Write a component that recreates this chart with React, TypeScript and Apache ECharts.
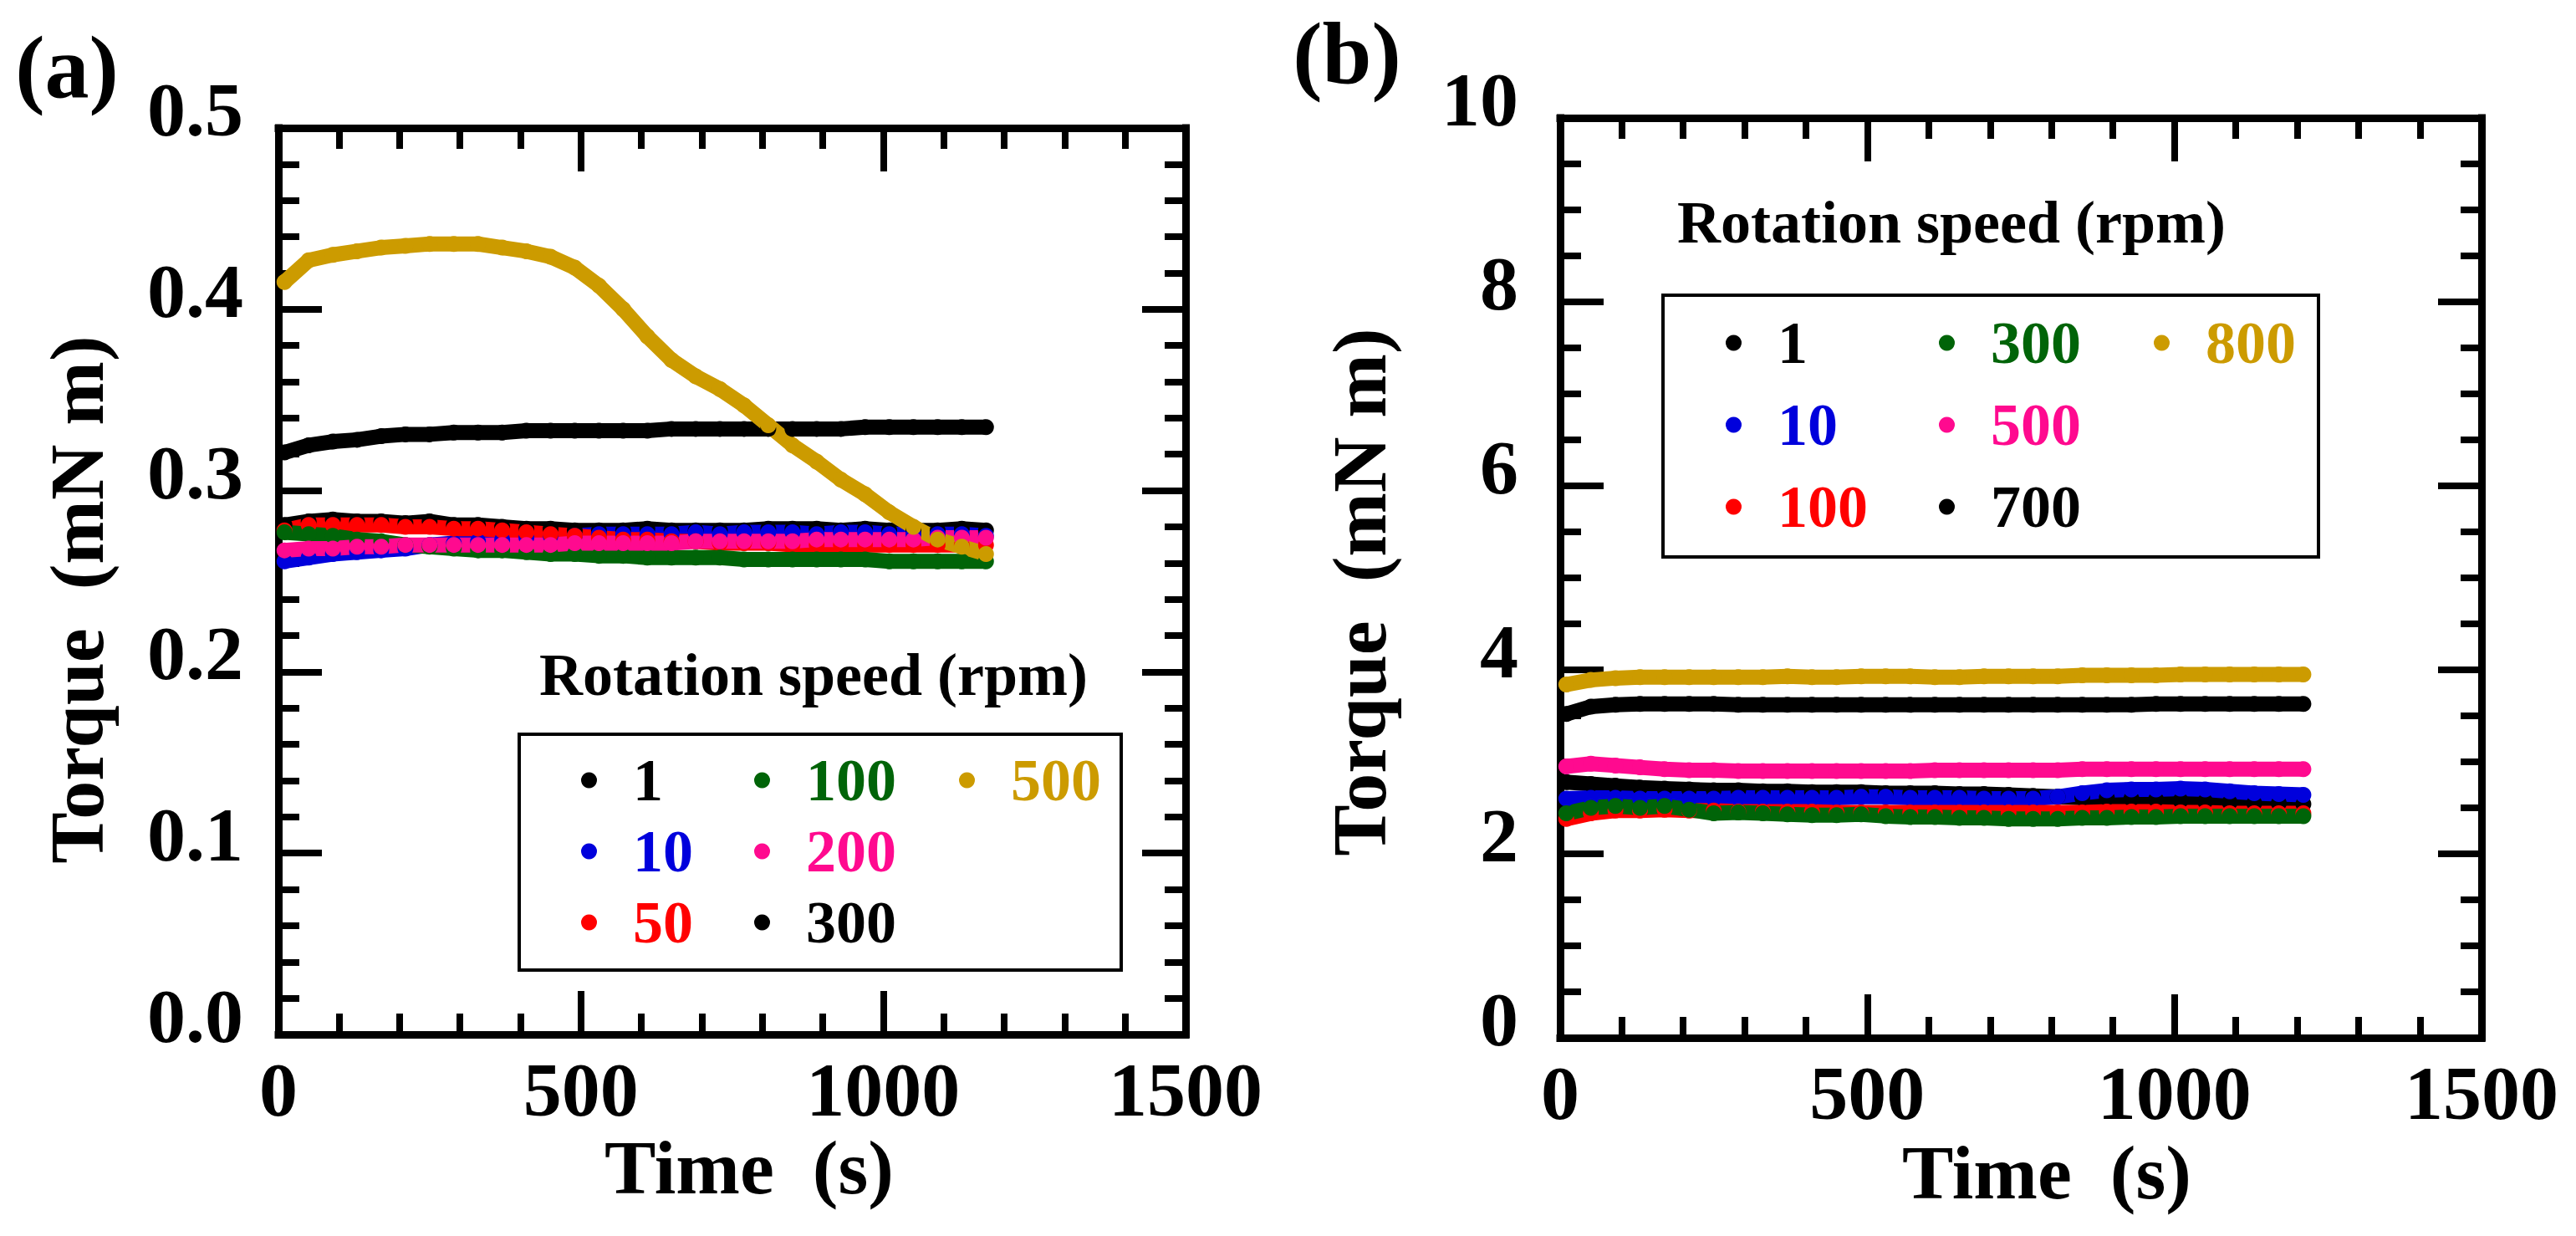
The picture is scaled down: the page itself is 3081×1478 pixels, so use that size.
import React, { useEffect, useRef } from "react";
import * as echarts from "echarts";

const FONT = "Liberation Serif";

// x ticks / y ticks
const xTicks = [0, 500, 1000, 1500];
const yTicksA = [0, 0.1, 0.2, 0.3, 0.4, 0.5];
const yTicksB = [0, 2, 4, 6, 8, 10];

// Panel (a) time (s)
const tA = [10, 50, 90, 130, 170, 210, 250, 290, 330, 370, 410, 450, 490, 530, 570, 610, 650, 690, 730, 770, 810, 850, 890, 930, 970, 1010, 1050, 1090, 1130, 1170];
// Panel (a) torque (mN m) per rotation speed
const a_1 = [0.281, 0.283, 0.284, 0.283, 0.283, 0.282, 0.283, 0.281, 0.281, 0.280, 0.279, 0.279, 0.278, 0.278, 0.278, 0.279, 0.278, 0.278, 0.278, 0.278, 0.279, 0.279, 0.279, 0.278, 0.279, 0.278, 0.278, 0.278, 0.279, 0.278];
const a_10 = [0.261, 0.263, 0.265, 0.266, 0.267, 0.268, 0.270, 0.271, 0.272, 0.273, 0.274, 0.275, 0.275, 0.276, 0.276, 0.276, 0.276, 0.277, 0.276, 0.277, 0.277, 0.277, 0.276, 0.277, 0.277, 0.276, 0.276, 0.276, 0.276, 0.275];
const a_50 = [0.278, 0.281, 0.281, 0.281, 0.281, 0.280, 0.280, 0.279, 0.279, 0.278, 0.277, 0.276, 0.275, 0.274, 0.273, 0.273, 0.272, 0.272, 0.271, 0.271, 0.271, 0.270, 0.270, 0.270, 0.270, 0.270, 0.270, 0.270, 0.270, 0.270];
const a_100 = [0.277, 0.276, 0.275, 0.273, 0.272, 0.270, 0.269, 0.268, 0.267, 0.267, 0.266, 0.265, 0.265, 0.264, 0.264, 0.263, 0.263, 0.263, 0.263, 0.262, 0.262, 0.262, 0.262, 0.262, 0.262, 0.261, 0.261, 0.261, 0.261, 0.261];
const a_200 = [0.267, 0.268, 0.268, 0.269, 0.269, 0.270, 0.270, 0.270, 0.270, 0.270, 0.270, 0.270, 0.271, 0.271, 0.271, 0.271, 0.271, 0.272, 0.272, 0.272, 0.272, 0.272, 0.273, 0.273, 0.273, 0.273, 0.273, 0.274, 0.274, 0.274];
const a_300 = [0.321, 0.325, 0.327, 0.328, 0.330, 0.331, 0.331, 0.332, 0.332, 0.332, 0.333, 0.333, 0.333, 0.333, 0.333, 0.333, 0.334, 0.334, 0.334, 0.334, 0.334, 0.334, 0.334, 0.334, 0.335, 0.335, 0.335, 0.335, 0.335, 0.335];
const a_500 = [0.415, 0.427, 0.430, 0.432, 0.434, 0.435, 0.436, 0.436, 0.436, 0.434, 0.432, 0.429, 0.423, 0.413, 0.400, 0.385, 0.372, 0.363, 0.356, 0.347, 0.336, 0.325, 0.316, 0.306, 0.298, 0.288, 0.280, 0.273, 0.269, 0.265];

// Panel (b) time (s)
const tB = [10, 50, 90, 130, 170, 210, 250, 290, 330, 370, 410, 450, 490, 530, 570, 610, 650, 690, 730, 770, 810, 850, 890, 930, 970, 1010, 1050, 1090, 1130, 1170, 1210];
const b_1 = [2.78, 2.76, 2.74, 2.72, 2.71, 2.70, 2.69, 2.69, 2.68, 2.68, 2.67, 2.67, 2.67, 2.66, 2.66, 2.66, 2.65, 2.65, 2.64, 2.63, 2.62, 2.61, 2.61, 2.60, 2.59, 2.58, 2.57, 2.56, 2.55, 2.55, 2.54];
const b_10 = [2.60, 2.61, 2.61, 2.60, 2.60, 2.60, 2.60, 2.61, 2.61, 2.61, 2.61, 2.61, 2.62, 2.62, 2.61, 2.61, 2.61, 2.60, 2.60, 2.60, 2.62, 2.66, 2.69, 2.70, 2.70, 2.71, 2.70, 2.68, 2.66, 2.65, 2.64];
const b_100 = [2.38, 2.44, 2.47, 2.47, 2.48, 2.47, 2.47, 2.46, 2.46, 2.46, 2.46, 2.45, 2.45, 2.45, 2.45, 2.45, 2.45, 2.45, 2.45, 2.45, 2.45, 2.45, 2.46, 2.46, 2.46, 2.45, 2.45, 2.44, 2.44, 2.44, 2.44];
const b_300 = [2.44, 2.50, 2.52, 2.50, 2.52, 2.48, 2.44, 2.45, 2.44, 2.43, 2.42, 2.42, 2.43, 2.41, 2.40, 2.40, 2.39, 2.39, 2.38, 2.38, 2.38, 2.39, 2.39, 2.40, 2.40, 2.41, 2.41, 2.41, 2.41, 2.41, 2.41];
const b_500 = [2.95, 2.98, 2.96, 2.94, 2.92, 2.91, 2.91, 2.90, 2.90, 2.90, 2.90, 2.90, 2.90, 2.90, 2.90, 2.91, 2.91, 2.91, 2.91, 2.91, 2.91, 2.92, 2.92, 2.92, 2.92, 2.92, 2.92, 2.92, 2.92, 2.92, 2.92];
const b_700 = [3.52, 3.60, 3.62, 3.63, 3.63, 3.63, 3.63, 3.62, 3.62, 3.62, 3.62, 3.62, 3.62, 3.62, 3.62, 3.62, 3.62, 3.62, 3.62, 3.62, 3.62, 3.62, 3.62, 3.62, 3.63, 3.63, 3.63, 3.63, 3.63, 3.63, 3.63];
const b_800 = [3.84, 3.89, 3.91, 3.92, 3.92, 3.92, 3.92, 3.92, 3.92, 3.93, 3.92, 3.92, 3.93, 3.93, 3.93, 3.92, 3.92, 3.93, 3.93, 3.93, 3.93, 3.94, 3.94, 3.94, 3.94, 3.95, 3.95, 3.95, 3.95, 3.95, 3.95];

const BLACK = "#000000";
const BLUE = "#0000dc";
const RED = "#ff0000";
const GREEN = "#006408";
const PINK = "#ff0a8f";
const GOLD = "#cc9b00";

const seriesA = [
  { label: "1", color: BLACK, ys: a_1 },
  { label: "10", color: BLUE, ys: a_10 },
  { label: "50", color: RED, ys: a_50 },
  { label: "100", color: GREEN, ys: a_100 },
  { label: "200", color: PINK, ys: a_200 },
  { label: "300", color: BLACK, ys: a_300 },
  { label: "500", color: GOLD, ys: a_500 },
];
const seriesB = [
  { label: "1", color: BLACK, ys: b_1 },
  { label: "10", color: BLUE, ys: b_10 },
  { label: "100", color: RED, ys: b_100 },
  { label: "300", color: GREEN, ys: b_300 },
  { label: "500", color: PINK, ys: b_500 },
  { label: "700", color: BLACK, ys: b_700 },
  { label: "800", color: GOLD, ys: b_800 },
];

// legend columns (column-major order as in the figure)
const legendColsA = [["1", "10", "50"], ["100", "200", "300"], ["500"]];
const legendColsB = [["1", "10", "100"], ["300", "500", "700"], ["800"]];

function makeXAxis(grid: number, pos: "bottom" | "top") {
  return {
    type: "value",
    gridIndex: grid,
    position: pos,
    min: xTicks[0],
    max: xTicks[xTicks.length - 1],
    interval: xTicks[1] - xTicks[0],
    axisLine: { show: true, onZero: false, lineStyle: { color: "#000", width: 9, cap: "square" } },
    axisTick: { show: true, inside: true, length: 52, lineStyle: { color: "#000", width: 8 } },
    minorTick: { show: true, splitNumber: 5, length: 25, lineStyle: { color: "#000", width: 8 } },
    splitLine: { show: false },
    axisLabel: {
      show: pos === "bottom",
      margin: 20,
      fontFamily: FONT,
      fontWeight: "bold",
      fontSize: 92,
      color: "#000",
      formatter: (v: number) => String(v),
    },
  };
}

function makeYAxis(grid: number, pos: "left" | "right", ticks: number[], minorSplit: number, margin: number, digits: number) {
  return {
    type: "value",
    gridIndex: grid,
    position: pos,
    min: ticks[0],
    max: ticks[ticks.length - 1],
    interval: ticks[1] - ticks[0],
    axisLine: { show: true, onZero: false, lineStyle: { color: "#000", width: 9, cap: "square" } },
    axisTick: { show: true, inside: true, length: 52, lineStyle: { color: "#000", width: 8 } },
    minorTick: { show: true, splitNumber: minorSplit, length: 25, lineStyle: { color: "#000", width: 8 } },
    splitLine: { show: false },
    axisLabel: {
      show: pos === "left",
      margin: margin,
      fontFamily: FONT,
      fontWeight: "bold",
      fontSize: 92,
      color: "#000",
      verticalAlign: "bottom",
      lineHeight: 44,
      formatter: (v: number) => v.toFixed(digits),
    },
  };
}

function makeSeries(panel: string, defs: { label: string; color: string; ys: number[] }[], xs: number[], axisIdx: number) {
  return defs.map((d) => ({
    type: "line",
    name: panel + ":" + d.label,
    xAxisIndex: axisIdx,
    yAxisIndex: axisIdx,
    data: xs.map((t, i) => [t, d.ys[i]]),
    symbol: "circle",
    symbolSize: 19,
    showSymbol: true,
    showAllSymbol: true,
    lineStyle: { color: d.color, width: 18 },
    itemStyle: { color: d.color },
    emphasis: { disabled: true },
    silent: true,
  }));
}

function makeLegends(panel: string, cols: string[][], defs: { label: string; color: string }[], lefts: number[], top: number, gap: number) {
  return cols.map((col, ci) => ({
    orient: "vertical",
    left: lefts[ci],
    top: top,
    padding: 0,
    itemGap: gap,
    itemWidth: 19,
    itemHeight: 19,
    icon: "circle",
    selectedMode: false,
    formatter: (n: string) => n.split(":")[1],
    textStyle: { fontFamily: FONT, fontWeight: "bold", fontSize: 72, color: "#000", padding: [0, 0, 0, 38] },
    data: col.map((lab) => {
      const d = defs.find((x) => x.label === lab)!;
      return { name: panel + ":" + lab, textStyle: { color: d.color, fontFamily: FONT, fontWeight: "bold", fontSize: 72, padding: [0, 0, 0, 38] } };
    }),
  }));
}

function txt(text: string, x: number, y: number, size: number, align: string, rotation = 0) {
  return {
    type: "text",
    x,
    y,
    rotation,
    style: { text, fontFamily: FONT, fontWeight: "bold", fontSize: size, fill: "#000", align, verticalAlign: "middle" },
  };
}

export default function App() {
  const ref = useRef<HTMLDivElement>(null);

  useEffect(() => {
    document.body.style.margin = "0";
    if (!ref.current) return;
    const chart = echarts.init(ref.current, undefined, { renderer: "svg" });

    const option = {
      animation: false,
      backgroundColor: "#ffffff",
      textStyle: { fontFamily: FONT },
      grid: [
        { left: 333, top: 153, width: 1085, height: 1084, containLabel: false },
        { left: 1866, top: 141, width: 1102, height: 1100, containLabel: false },
      ],
      xAxis: [makeXAxis(0, "bottom"), makeXAxis(0, "top"), makeXAxis(1, "bottom"), makeXAxis(1, "top")],
      yAxis: [
        makeYAxis(0, "left", yTicksA, 5, 42, 1),
        makeYAxis(0, "right", yTicksA, 5, 42, 1),
        makeYAxis(1, "left", yTicksB, 4, 50, 0),
        makeYAxis(1, "right", yTicksB, 4, 50, 0),
      ],
      legend: [
        ...makeLegends("a", legendColsA, seriesA, [695, 902, 1147], 897, 13),
        ...makeLegends("b", legendColsB, seriesB, [2064, 2319, 2576], 374, 26),
      ],
      graphic: [
        txt("(a)", 80, 80, 106, "center"),
        txt("(b)", 1611, 64, 106, "center"),
        txt("Time\u00a0 (s)", 896, 1396, 92, "center"),
        txt("Time\u00a0 (s)", 2448, 1402, 92, "center"),
        txt("Torque\u00a0 (mN m)", 92, 717, 92, "center", Math.PI / 2),
        txt("Torque\u00a0 (mN m)", 1626, 708, 92, "center", Math.PI / 2),
        txt("Rotation speed (rpm)", 645, 807, 72, "left"),
        txt("Rotation speed (rpm)", 2006, 266, 72, "left"),
        { type: "rect", shape: { x: 621, y: 878, width: 720, height: 282 }, style: { fill: "none", stroke: "#000", lineWidth: 4 } },
        { type: "rect", shape: { x: 1989, y: 353, width: 784, height: 313 }, style: { fill: "none", stroke: "#000", lineWidth: 4 } },
      ],
      series: [...makeSeries("a", seriesA, tA, 0), ...makeSeries("b", seriesB, tB, 2)],
    };

    chart.setOption(option as any);
    return () => chart.dispose();
  }, []);

  return <div ref={ref} style={{ width: 3081, height: 1478 }} />;
}
